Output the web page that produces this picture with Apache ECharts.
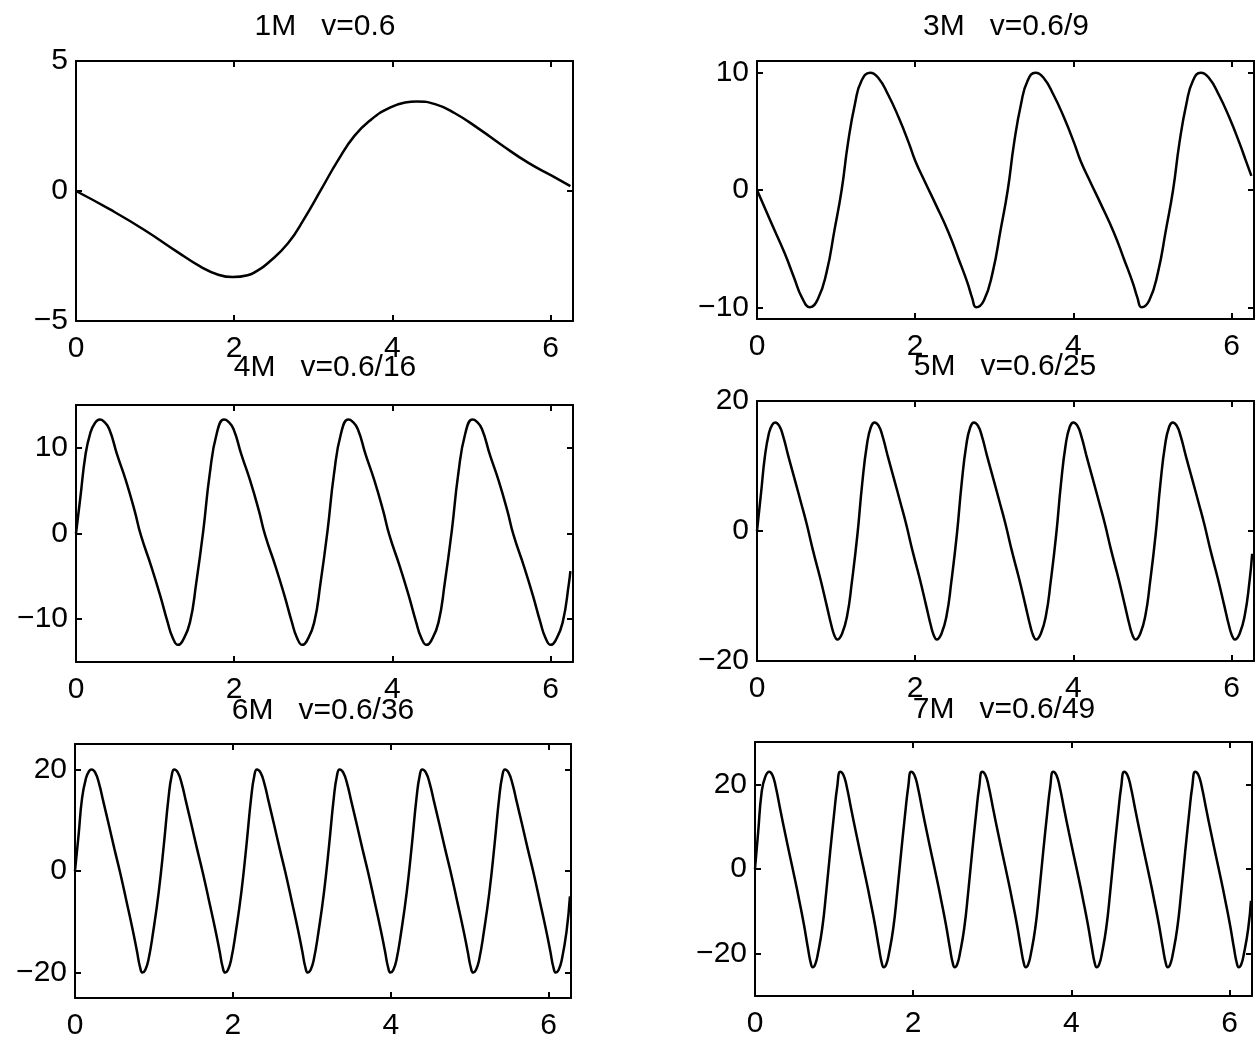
<!DOCTYPE html>
<html>
<head>
<meta charset="utf-8">
<title>nM v=0.6/n^2</title>
<script src="https://cdn.jsdelivr.net/npm/echarts/dist/echarts.min.js"></script>
<style>
    html, body { margin: 0; padding: 0; background: #fff; }
    #main { width: 1259px; height: 1047px; }
</style>
</head>
<body>
<div id="main"></div>
<script>
// panel titles and axis scales
var titles = ['1M   v=0.6', '3M   v=0.6/9', '4M   v=0.6/16', '5M   v=0.6/25', '6M   v=0.6/36', '7M   v=0.6/49'];
var xTicks = [0, 2, 4, 6];
var xMax = 6.2832;
var yLimits = [[-5, 5], [-11, 11], [-15, 15], [-20, 20], [-25, 25], [-30, 30]];
var yTicks = [[-5, 0, 5], [-10, 0, 10], [-10, 0, 10], [-20, 0, 20], [-20, 0, 20], [-20, 0, 20]];

// curves, [x, y]
var wave1M = [[0, 0], [0.43, -0.71], [0.86, -1.49], [1.28, -2.34], [1.58, -2.92], [1.79, -3.21], [1.98, -3.31], [2.17, -3.24],
    [2.30, -3.05], [2.42, -2.79], [2.68, -2.01], [2.89, -1.04], [3.10, 0.06], [3.31, 1.17], [3.52, 2.12], [3.74, 2.77], [3.95, 3.18],
    [4.16, 3.40], [4.31, 3.44], [4.54, 3.34], [4.79, 2.99], [5.09, 2.40], [5.39, 1.75], [5.72, 1.08], [6.02, 0.58], [6.25, 0.19]];

var wave3M = [[0, 0], [0.18, -2.8], [0.35, -5.4], [0.47, -7.5], [0.57, -9.2], [0.67, -10], [0.77, -9.3], [0.88, -7], [0.98, -3.4],
    [1.07, 0], [1.15, 4], [1.24, 7.4], [1.32, 9.3], [1.43, 10],
    [1.53, 9.6], [1.66, 8.1], [1.79, 6.2], [1.92, 4], [2.00, 2.5], [2.13, 0.6], [2.25, -1.1], [2.42, -3.6], [2.55, -5.9], [2.66, -7.9],
    [2.72, -9.2], [2.77, -10], [2.87, -9.4], [2.98, -7], [3.08, -3.4], [3.17, 0], [3.25, 4], [3.34, 7.4], [3.42, 9.3], [3.52, 10],
    [3.62, 9.6], [3.75, 8.1], [3.88, 6.2], [4.01, 4], [4.09, 2.5], [4.22, 0.6], [4.34, -1.1], [4.51, -3.6], [4.64, -5.9], [4.75, -7.9],
    [4.81, -9.2], [4.86, -10], [4.96, -9.4], [5.07, -7], [5.17, -3.4], [5.26, 0], [5.34, 4], [5.43, 7.4], [5.51, 9.3], [5.61, 10],
    [5.71, 9.6], [5.84, 8.1], [5.97, 6.2], [6.10, 4], [6.18, 2.5], [6.25, 1.2]];

var wave4M = [[0, 0], [0.055, 4.2], [0.12, 9.2], [0.18, 11.7], [0.24, 12.9],
    [0.30, 13.3], [0.35, 13.1], [0.42, 12.2], [0.52, 9.2], [0.63, 6.2], [0.74, 2.7], [0.82, -0.2], [0.95, -3.8], [1.06, -7.1],
    [1.16, -10.4], [1.22, -12.1], [1.29, -13], [1.35, -12.5], [1.44, -10.4], [1.52, -5.8], [1.61, 0.4], [1.69, 6.9], [1.78, 11.7],
    [1.871, 13.3], [1.921, 13.1], [1.991, 12.2], [2.091, 9.2], [2.201, 6.2], [2.311, 2.7], [2.391, -0.2], [2.521, -3.8], [2.631, -7.1],
    [2.731, -10.4], [2.791, -12.1], [2.861, -13], [2.921, -12.5], [3.011, -10.4], [3.091, -5.8], [3.181, 0.4], [3.261, 6.9], [3.351, 11.7],
    [3.442, 13.3], [3.492, 13.1], [3.562, 12.2], [3.662, 9.2], [3.772, 6.2], [3.882, 2.7], [3.962, -0.2], [4.092, -3.8], [4.202, -7.1],
    [4.302, -10.4], [4.362, -12.1], [4.432, -13], [4.492, -12.5], [4.582, -10.4], [4.662, -5.8], [4.752, 0.4], [4.832, 6.9], [4.922, 11.7],
    [5.012, 13.3], [5.062, 13.1], [5.132, 12.2], [5.232, 9.2], [5.342, 6.2], [5.452, 2.7], [5.532, -0.2], [5.662, -3.8], [5.772, -7.1],
    [5.872, -10.4], [5.932, -12.1], [6.002, -13], [6.062, -12.5], [6.152, -10.4], [6.232, -5.8], [6.25, -4.4]];

var wave5M = [[0, 0], [0.05, 5.7], [0.10, 11.5], [0.15, 15], [0.19, 16.3],
    [0.23, 16.7], [0.28, 16.2], [0.33, 14.6], [0.39, 11.8], [0.48, 7.8], [0.56, 4.2], [0.63, 1], [0.71, -3.1], [0.80, -7.3],
    [0.88, -11.4], [0.94, -14.5], [0.98, -16.1], [1.015, -16.7], [1.075, -15.8], [1.14, -13], [1.20, -7.8], [1.27, -0.5],
    [1.33, 7.3], [1.39, 13.3], [1.44, 16],
    [1.487, 16.7], [1.537, 16.2], [1.587, 14.6], [1.647, 11.8], [1.737, 7.8], [1.817, 4.2], [1.887, 1], [1.967, -3.1], [2.057, -7.3],
    [2.137, -11.4], [2.197, -14.5], [2.237, -16.1], [2.272, -16.7], [2.332, -15.8], [2.397, -13], [2.457, -7.8], [2.527, -0.5],
    [2.587, 7.3], [2.647, 13.3], [2.697, 16],
    [2.743, 16.7], [2.793, 16.2], [2.843, 14.6], [2.903, 11.8], [2.993, 7.8], [3.073, 4.2], [3.143, 1], [3.223, -3.1], [3.313, -7.3],
    [3.393, -11.4], [3.453, -14.5], [3.493, -16.1], [3.528, -16.7], [3.588, -15.8], [3.653, -13], [3.713, -7.8], [3.783, -0.5],
    [3.843, 7.3], [3.903, 13.3], [3.953, 16],
    [4.00, 16.7], [4.05, 16.2], [4.10, 14.6], [4.16, 11.8], [4.25, 7.8], [4.33, 4.2], [4.40, 1], [4.48, -3.1], [4.57, -7.3],
    [4.65, -11.4], [4.71, -14.5], [4.75, -16.1], [4.785, -16.7], [4.845, -15.8], [4.91, -13], [4.97, -7.8], [5.04, -0.5],
    [5.10, 7.3], [5.16, 13.3], [5.21, 16],
    [5.256, 16.7], [5.306, 16.2], [5.356, 14.6], [5.416, 11.8], [5.506, 7.8], [5.586, 4.2], [5.656, 1], [5.736, -3.1], [5.826, -7.3],
    [5.906, -11.4], [5.966, -14.5], [6.006, -16.1], [6.041, -16.7], [6.101, -15.8], [6.166, -13], [6.226, -7.8], [6.26, -3.5]];

var wave6M = [[0, 0], [0.045, 7], [0.09, 14.4], [0.14, 18.3], [0.18, 19.7],
    [0.21, 20], [0.255, 19.4], [0.305, 17.2], [0.36, 13.6], [0.43, 9], [0.50, 4.3], [0.57, -0.2], [0.65, -5.8], [0.73, -11.5],
    [0.785, -15.8], [0.825, -19], [0.855, -20], [0.89, -19.5], [0.93, -17.5], [0.99, -12], [1.06, -4.2], [1.125, 5.1], [1.185, 14.5], [1.225, 18.8],
    [1.257, 20], [1.302, 19.4], [1.352, 17.2], [1.407, 13.6], [1.477, 9], [1.547, 4.3], [1.617, -0.2], [1.697, -5.8], [1.777, -11.5],
    [1.832, -15.8], [1.872, -19], [1.902, -20], [1.937, -19.5], [1.977, -17.5], [2.037, -12], [2.107, -4.2], [2.172, 5.1], [2.232, 14.5], [2.272, 18.8],
    [2.304, 20], [2.349, 19.4], [2.399, 17.2], [2.454, 13.6], [2.524, 9], [2.594, 4.3], [2.664, -0.2], [2.744, -5.8], [2.824, -11.5],
    [2.879, -15.8], [2.919, -19], [2.949, -20], [2.984, -19.5], [3.024, -17.5], [3.084, -12], [3.154, -4.2], [3.219, 5.1], [3.279, 14.5], [3.319, 18.8],
    [3.352, 20], [3.397, 19.4], [3.447, 17.2], [3.502, 13.6], [3.572, 9], [3.642, 4.3], [3.712, -0.2], [3.792, -5.8], [3.872, -11.5],
    [3.927, -15.8], [3.967, -19], [3.997, -20], [4.032, -19.5], [4.072, -17.5], [4.132, -12], [4.202, -4.2], [4.267, 5.1], [4.327, 14.5], [4.367, 18.8],
    [4.399, 20], [4.444, 19.4], [4.494, 17.2], [4.549, 13.6], [4.619, 9], [4.689, 4.3], [4.759, -0.2], [4.839, -5.8], [4.919, -11.5],
    [4.974, -15.8], [5.014, -19], [5.044, -20], [5.079, -19.5], [5.119, -17.5], [5.179, -12], [5.249, -4.2], [5.314, 5.1], [5.374, 14.5], [5.414, 18.8],
    [5.446, 20], [5.491, 19.4], [5.541, 17.2], [5.596, 13.6], [5.666, 9], [5.736, 4.3], [5.806, -0.2], [5.886, -5.8], [5.966, -11.5],
    [6.021, -15.8], [6.061, -19], [6.091, -20], [6.126, -19.5], [6.166, -17.5], [6.226, -12], [6.27, -5]];

var wave7M = [[0, 0], [0.04, 8.7], [0.085, 18.3], [0.13, 21.8],
    [0.18, 23], [0.22, 22.2], [0.26, 19.6], [0.32, 14], [0.38, 8.5], [0.44, 3.2], [0.50, -2], [0.56, -7.5], [0.62, -13.3],
    [0.67, -18.8], [0.705, -22.2], [0.73, -23.2], [0.76, -22.6], [0.795, -20], [0.85, -14], [0.90, -5.5], [0.95, 4], [1.00, 13], [1.04, 19.5],
    [1.078, 23], [1.118, 22.2], [1.158, 19.6], [1.218, 14], [1.278, 8.5], [1.338, 3.2], [1.398, -2], [1.458, -7.5], [1.518, -13.3],
    [1.568, -18.8], [1.603, -22.2], [1.628, -23.2], [1.658, -22.6], [1.693, -20], [1.748, -14], [1.798, -5.5], [1.848, 4], [1.898, 13], [1.938, 19.5],
    [1.975, 23], [2.015, 22.2], [2.055, 19.6], [2.115, 14], [2.175, 8.5], [2.235, 3.2], [2.295, -2], [2.355, -7.5], [2.415, -13.3],
    [2.465, -18.8], [2.50, -22.2], [2.525, -23.2], [2.555, -22.6], [2.59, -20], [2.645, -14], [2.695, -5.5], [2.745, 4], [2.795, 13], [2.835, 19.5],
    [2.873, 23], [2.913, 22.2], [2.953, 19.6], [3.013, 14], [3.073, 8.5], [3.133, 3.2], [3.193, -2], [3.253, -7.5], [3.313, -13.3],
    [3.363, -18.8], [3.398, -22.2], [3.423, -23.2], [3.453, -22.6], [3.488, -20], [3.543, -14], [3.593, -5.5], [3.643, 4], [3.693, 13], [3.733, 19.5],
    [3.77, 23], [3.81, 22.2], [3.85, 19.6], [3.91, 14], [3.97, 8.5], [4.03, 3.2], [4.09, -2], [4.15, -7.5], [4.21, -13.3],
    [4.26, -18.8], [4.295, -22.2], [4.32, -23.2], [4.35, -22.6], [4.385, -20], [4.44, -14], [4.49, -5.5], [4.54, 4], [4.59, 13], [4.63, 19.5],
    [4.668, 23], [4.708, 22.2], [4.748, 19.6], [4.808, 14], [4.868, 8.5], [4.928, 3.2], [4.988, -2], [5.048, -7.5], [5.108, -13.3],
    [5.158, -18.8], [5.193, -22.2], [5.218, -23.2], [5.248, -22.6], [5.283, -20], [5.338, -14], [5.388, -5.5], [5.438, 4], [5.488, 13], [5.528, 19.5],
    [5.566, 23], [5.606, 22.2], [5.646, 19.6], [5.706, 14], [5.766, 8.5], [5.826, 3.2], [5.886, -2], [5.946, -7.5], [6.006, -13.3],
    [6.056, -18.8], [6.091, -22.2], [6.116, -23.2], [6.146, -22.6], [6.181, -20], [6.236, -14], [6.27, -7.5]];

var waves = [wave1M, wave3M, wave4M, wave5M, wave6M, wave7M];

// layout: [left, top, width, height] of each plot box, and title centres
var boxes = [[76, 61, 497, 260], [757, 61, 497, 258], [76, 405, 497, 257],
    [757, 401, 497, 260], [75, 744, 496, 254], [755, 742, 497, 254]];
var titleAt = [[325, 27], [1006, 27], [325, 368], [1005, 367], [323, 711], [1004, 710]];

var FONT = '"Liberation Sans", Arial, Helvetica, sans-serif';
var lineStyle = {color: '#000', width: 2};

function minusSign(v) {
    return v < 0 ? '\u2212' + (-v) : String(v);
}

var grids = [], xAxes = [], yAxes = [], series = [], graphics = [];
for (var i = 0; i < waves.length; i++) {
    var b = boxes[i];
    grids.push({left: b[0], top: b[1], width: b[2], height: b[3]});

    // bottom and top x axes (top one only carries the inward ticks)
    xAxes.push({
        type: 'value', gridIndex: i, position: 'bottom', min: 0, max: xMax,
        axisLine: {onZero: false, lineStyle: lineStyle},
        axisTick: {inside: true, length: 6, customValues: xTicks, lineStyle: lineStyle},
        axisLabel: {customValues: xTicks, color: '#000', fontSize: 30, fontFamily: FONT, margin: 13, formatter: minusSign},
        splitLine: {show: false}
    });
    xAxes.push({
        type: 'value', gridIndex: i, position: 'top', min: 0, max: xMax,
        axisLine: {onZero: false, lineStyle: lineStyle},
        axisTick: {inside: true, length: 6, customValues: xTicks, lineStyle: lineStyle},
        axisLabel: {show: false},
        splitLine: {show: false}
    });
    yAxes.push({
        type: 'value', gridIndex: i, position: 'left', min: yLimits[i][0], max: yLimits[i][1],
        axisLine: {onZero: false, lineStyle: lineStyle},
        axisTick: {inside: true, length: 6, customValues: yTicks[i], lineStyle: lineStyle},
        axisLabel: {customValues: yTicks[i], color: '#000', fontSize: 30, fontFamily: FONT, margin: 8, formatter: minusSign},
        splitLine: {show: false}
    });
    yAxes.push({
        type: 'value', gridIndex: i, position: 'right', min: yLimits[i][0], max: yLimits[i][1],
        axisLine: {onZero: false, lineStyle: lineStyle},
        axisTick: {inside: true, length: 6, customValues: yTicks[i], lineStyle: lineStyle},
        axisLabel: {show: false},
        splitLine: {show: false}
    });

    series.push({
        name: titles[i],
        type: 'line',
        xAxisIndex: i * 2,
        yAxisIndex: i * 2,
        data: waves[i],
        showSymbol: false,
        smooth: 0.5,
        lineStyle: {color: '#000', width: 2.5},
        z: 1
    });

    graphics.push({
        type: 'text',
        x: titleAt[i][0],
        y: titleAt[i][1],
        style: {
            text: titles[i],
            fill: '#000',
            font: '30px ' + FONT,
            textAlign: 'center',
            textVerticalAlign: 'middle'
        }
    });
}

var chart = echarts.init(document.getElementById('main'));
chart.setOption({
    animation: false,
    backgroundColor: '#fff',
    grid: grids,
    xAxis: xAxes,
    yAxis: yAxes,
    series: series,
    graphic: graphics
});
</script>
</body>
</html>
